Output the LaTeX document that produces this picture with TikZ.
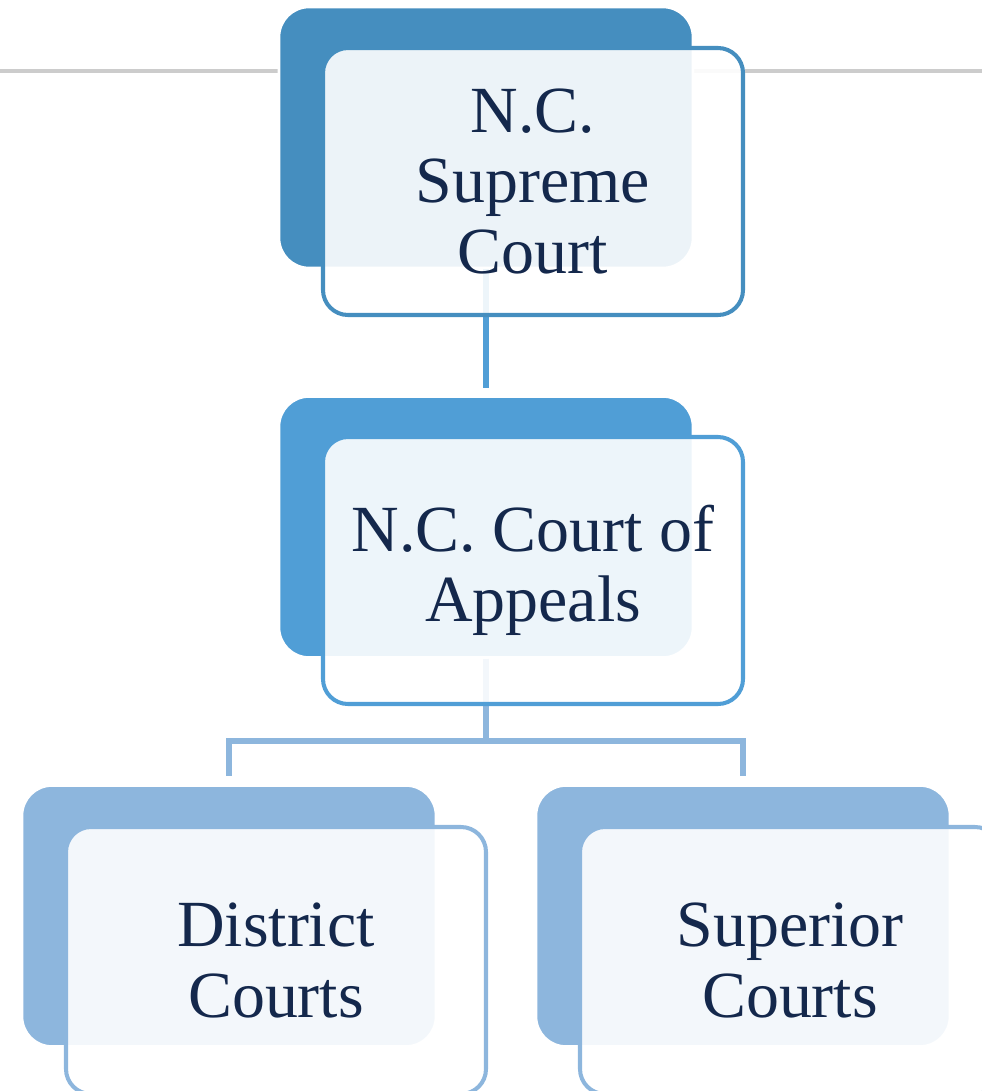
\documentclass[tikz,border=0pt]{standalone}
\usepackage{fontspec}
\setmainfont{Liberation Serif}
\usepackage{xcolor}

\definecolor{topblue}{RGB}{69,142,191}
\definecolor{midblue}{RGB}{80,158,214}
\definecolor{lowblue}{RGB}{141,182,221}
\definecolor{courtnavy}{RGB}{20,40,76}
\definecolor{ruleline}{RGB}{204,204,204}

\begin{document}
\begin{tikzpicture}[
    backbox/.style={rectangle, rounded corners=0.6cm, draw=white, line width=1.5pt, minimum width=8.28cm, minimum height=5.22cm, inner sep=0pt},
    frontbox/.style={rectangle, rounded corners=0.5cm, line width=2.3pt, fill=white, fill opacity=0.9, text opacity=1, minimum width=8.4cm, minimum height=5.34cm, inner sep=0pt, align=center, text=courtnavy, font=\fontsize{37.5}{40}\selectfont},
    link/.style={line width=3pt}
]

\useasboundingbox (0,0) rectangle (19.64,-21.82);
\clip (0,0) rectangle (19.64,-21.82);

% Rule behind the top box
\draw[ruleline, line width=2.5pt] (0,-1.42) -- (19.64,-1.42);

% Back boxes
\node[backbox, fill=topblue] (supremeb) at (9.72,-2.75) {};
\node[backbox, fill=midblue] (appealsb) at (9.72,-10.54) {};
\node[backbox, fill=lowblue] (districtb) at (4.58,-18.32) {};
\node[backbox, fill=lowblue] (superiorb) at (14.86,-18.32) {};

% Connectors
\coordinate (split) at (9.72,-14.82);
\draw[link, midblue, shorten >=0.15cm] (supremeb.south) -- (appealsb.north);
\draw[link, lowblue, shorten >=0.16cm] (appealsb.south) -- (split) -| (districtb.north);
\draw[link, lowblue, shorten >=0.16cm] (split) -| (superiorb.north);

% Front boxes with the court names
\node[frontbox, draw=topblue] (supreme) at (10.66,-3.63) {N.C.\\Supreme\\Court};
\node[frontbox, draw=midblue] (appeals) at (10.66,-11.41) {N.C. Court of\\Appeals};
\node[frontbox, draw=lowblue] (district) at (5.52,-19.21) {District\\Courts};
\node[frontbox, draw=lowblue] (superior) at (15.8,-19.21) {Superior\\Courts};

\end{tikzpicture}
\end{document}
